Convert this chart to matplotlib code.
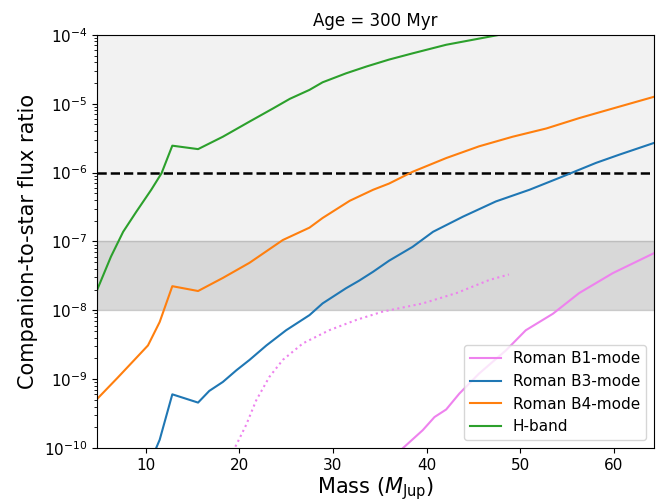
import numpy as np
import matplotlib
matplotlib.use("Agg")
import matplotlib.pyplot as plt

# H-band
h_mass = [4.8, 6.3, 7.6, 9.0, 10.6, 11.7, 12.85, 15.6, 18.25, 21.1, 23.6, 25.4, 27.5, 28.9,
          31.4, 33.6, 36.0, 38.5, 42.1, 47.8, 52.0, 56.0, 60.0, 64.3]
h_logf = [-7.71, -7.22, -6.86, -6.57, -6.25, -6.01, -5.61, -5.66, -5.48, -5.26, -5.07, -4.93,
          -4.80, -4.69, -4.56, -4.46, -4.36, -4.27, -4.145, -4.0, -3.9, -3.8, -3.72, -3.64]

# Roman B4-mode
b4_mass = [4.8, 7.0, 8.8, 10.25, 11.5, 12.85, 15.6, 18.25, 21.1, 24.65, 27.5, 28.9, 31.8,
           34.3, 36.0, 38.5, 42.1, 45.6, 49.2, 52.8, 56.3, 59.9, 64.3]
b4_logf = [-9.29, -8.98, -8.72, -8.51, -8.17, -7.65, -7.72, -7.53, -7.31, -6.98, -6.80, -6.66,
           -6.41, -6.25, -6.16, -5.99, -5.79, -5.62, -5.48, -5.36, -5.21, -5.07, -4.90]

# Roman B3-mode
b3_mass = [10.5, 11.5, 12.85, 15.6, 16.8, 18.25, 19.7, 21.1, 22.9, 25.0, 27.5, 28.9, 31.4,
           32.8, 34.3, 36.0, 38.5, 40.7, 43.9, 47.4, 51.0, 54.5, 58.1, 60.6, 64.3]
b3_logf = [-10.2, -9.88, -9.22, -9.34, -9.17, -9.04, -8.87, -8.72, -8.51, -8.29, -8.07, -7.90,
           -7.68, -7.57, -7.44, -7.28, -7.08, -6.86, -6.64, -6.42, -6.25, -6.06, -5.86, -5.74, -5.57]

# Roman B1-mode (solid)
b1_mass = [37.0, 39.6, 40.85, 42.1, 43.5, 45.6, 48.5, 50.6, 53.5, 56.3, 59.9, 64.3]
b1_logf = [-10.06, -9.74, -9.55, -9.44, -9.21, -8.92, -8.58, -8.29, -8.05, -7.75, -7.46, -7.17]

# Roman B1-mode (dotted)
b1d_mass = [19.3, 19.7, 20.75, 21.8, 23.2, 24.65, 26.8, 29.6, 32.5, 35.3, 39.6, 43.2, 46.7, 48.8]
b1d_logf = [-10.05, -9.95, -9.66, -9.31, -8.97, -8.72, -8.48, -8.29, -8.14, -8.02, -7.90,
            -7.75, -7.56, -7.48]

fig = plt.figure(figsize=(6.64, 5.04), dpi=100)
ax = fig.add_axes([0.146, 0.111, 0.839, 0.820])

ax.axhspan(1e-7, 1e-4, color='gray', alpha=0.1)
ax.axhspan(1e-8, 1e-7, color='gray', alpha=0.3)
ax.axhline(1e-6, color='k', ls='--', lw=1.8)

ax.plot(b1_mass, 10**np.array(b1_logf), color='violet', lw=1.5, label='Roman B1-mode')
ax.plot(b1d_mass, 10**np.array(b1d_logf), color='violet', lw=1.5, ls=':')
ax.plot(b3_mass, 10**np.array(b3_logf), color='C0', lw=1.5, label='Roman B3-mode')
ax.plot(b4_mass, 10**np.array(b4_logf), color='C1', lw=1.5, label='Roman B4-mode')
ax.plot(h_mass, 10**np.array(h_logf), color='C2', lw=1.5, label='H-band')

ax.set_yscale('log')
ax.set_ylim(1e-10, 1e-4)
ax.set_xlim(4.8, 64.3)
ax.set_title('Age = 300 Myr', fontsize=12)
ax.set_xlabel(r'Mass ($M_{\rm Jup}$)', fontsize=15, labelpad=2)
ax.set_ylabel('Companion-to-star flux ratio', fontsize=15)
ax.tick_params(labelsize=11)
ax.legend(loc='lower right', fontsize=11)

fig.savefig('out.png', dpi=100)
